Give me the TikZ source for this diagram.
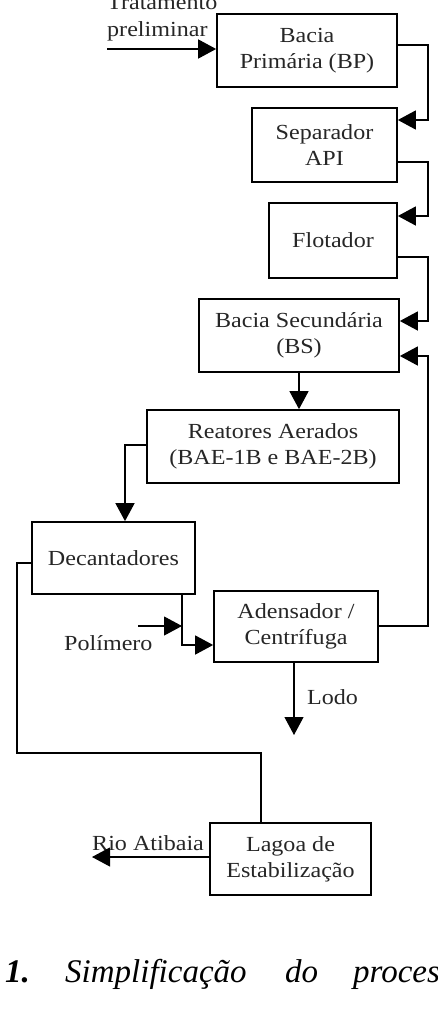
\documentclass[tikz,border=0pt]{standalone}
\usepackage{fontspec}
\setmainfont{Liberation Serif}
\newfontfamily\boxfont[FakeStretch=1.12]{Liberation Serif}
\usetikzlibrary{arrows.meta}
\begin{document}
\begin{tikzpicture}[x=1pt,y=-1pt,
  txt/.style={font=\boxfont\fontsize{21.5}{26}\selectfont, text=black!85},
  unit/.style={txt, draw, line width=1.7pt, align=center, inner sep=0pt},
  lbl/.style={txt, inner sep=0pt, anchor=base west},
  flow/.style={line width=1.5pt, -{Triangle[length=18pt,width=19pt]}},
  thin/.style={line width=1.1pt, -{Triangle[length=18pt,width=19pt]}},
  pipe/.style={line width=1.7pt},
  captext/.style={font=\fontsize{33}{40}\selectfont\itshape, inner sep=0pt, anchor=base west}]
\useasboundingbox (0,0) rectangle (438,1014);
\clip (0,0) rectangle (438,1014);

% process units
\node[unit, minimum width=180pt, minimum height=73pt] (bp)  at (307,50.5) {Bacia\\Primária (BP)};
\node[unit, minimum width=145pt, minimum height=74pt] (sep) at (324.5,145) {Separador\\API};
\node[unit, minimum width=128pt, minimum height=75pt] (flo) at (333,240.5) {Flotador};
\node[unit, minimum width=200pt, minimum height=73pt] (bs)  at (299,335.5) {Bacia Secundária\\(BS)};
\node[unit, minimum width=252pt, minimum height=73pt] (rea) at (273,446.5) {Reatores Aerados\\(BAE-1B e BAE-2B)};
\node[unit, minimum width=163pt, minimum height=72pt] (dec) at (113.5,558) {Decantadores};
\node[unit, minimum width=164pt, minimum height=71pt] (ade) at (296,626.5) {Adensador /\\Centrífuga};
\node[unit, minimum width=161pt, minimum height=72pt] (lag) at (290.5,859) {Lagoa de\\Estabilização};

% free ends and the return bus on the right
\coordinate (bus) at (428,0);
\coordinate (inlet) at (107,49);
\coordinate (polin) at (138,626);
\coordinate (polout) at (182,626);
\coordinate (sludge) at (294,735);
\coordinate (river) at (92,857);

% labels
\node[lbl] (t1) at (107,10) {Tratamento};
\node[lbl] (t2) at (107,37) {preliminar};
\node[lbl] (pl) at (64,650) {Polímero};
\node[lbl] (lo) at (307,704) {Lodo};
\node[lbl] (ra) at (92,850) {Rio Atibaia};

% main line
\draw[flow] (inlet) -- (inlet -| bp.west);
\draw[flow] (bp.east |- 0,45) -- (bus |- 0,45) |- (sep.east |- 0,120);
\draw[flow] (sep.east |- 0,162) -- (bus |- 0,162) |- (flo.east |- 0,216);
\draw[flow] (flo.east |- 0,257) -- (bus |- 0,257) |- (bs.east |- 0,321);
\draw[flow] (ade.east |- 0,626) -- (bus |- 0,626) |- (bs.east |- 0,356);
\draw[thin] (bs.south) -- (rea.north -| bs.south);
\draw[flow] (rea.west |- 0,445) -| (125,0 |- dec.north);
\draw[flow] (182,0 |- dec.south) |- (ade.west |- 0,645);
\draw[thin] (polin) -- (polout);
\draw[thin] (ade.south -| sludge) -- (sludge);
\draw[pipe] (dec.west |- 0,563) -- (17,563) |- (261,753) -- (261,0 |- lag.north);
\draw[thin] (lag.west |- river) -- (river);

% caption
\node[captext, font=\fontsize{33}{40}\selectfont\bfseries\itshape] (c1) at (5,982) {1.};
\node[captext] (c2) at (65,982) {Simplificação};
\node[captext] (c3) at (285,982) {do};
\node[captext] (c4) at (353,982) {proces};
\end{tikzpicture}
\end{document}
